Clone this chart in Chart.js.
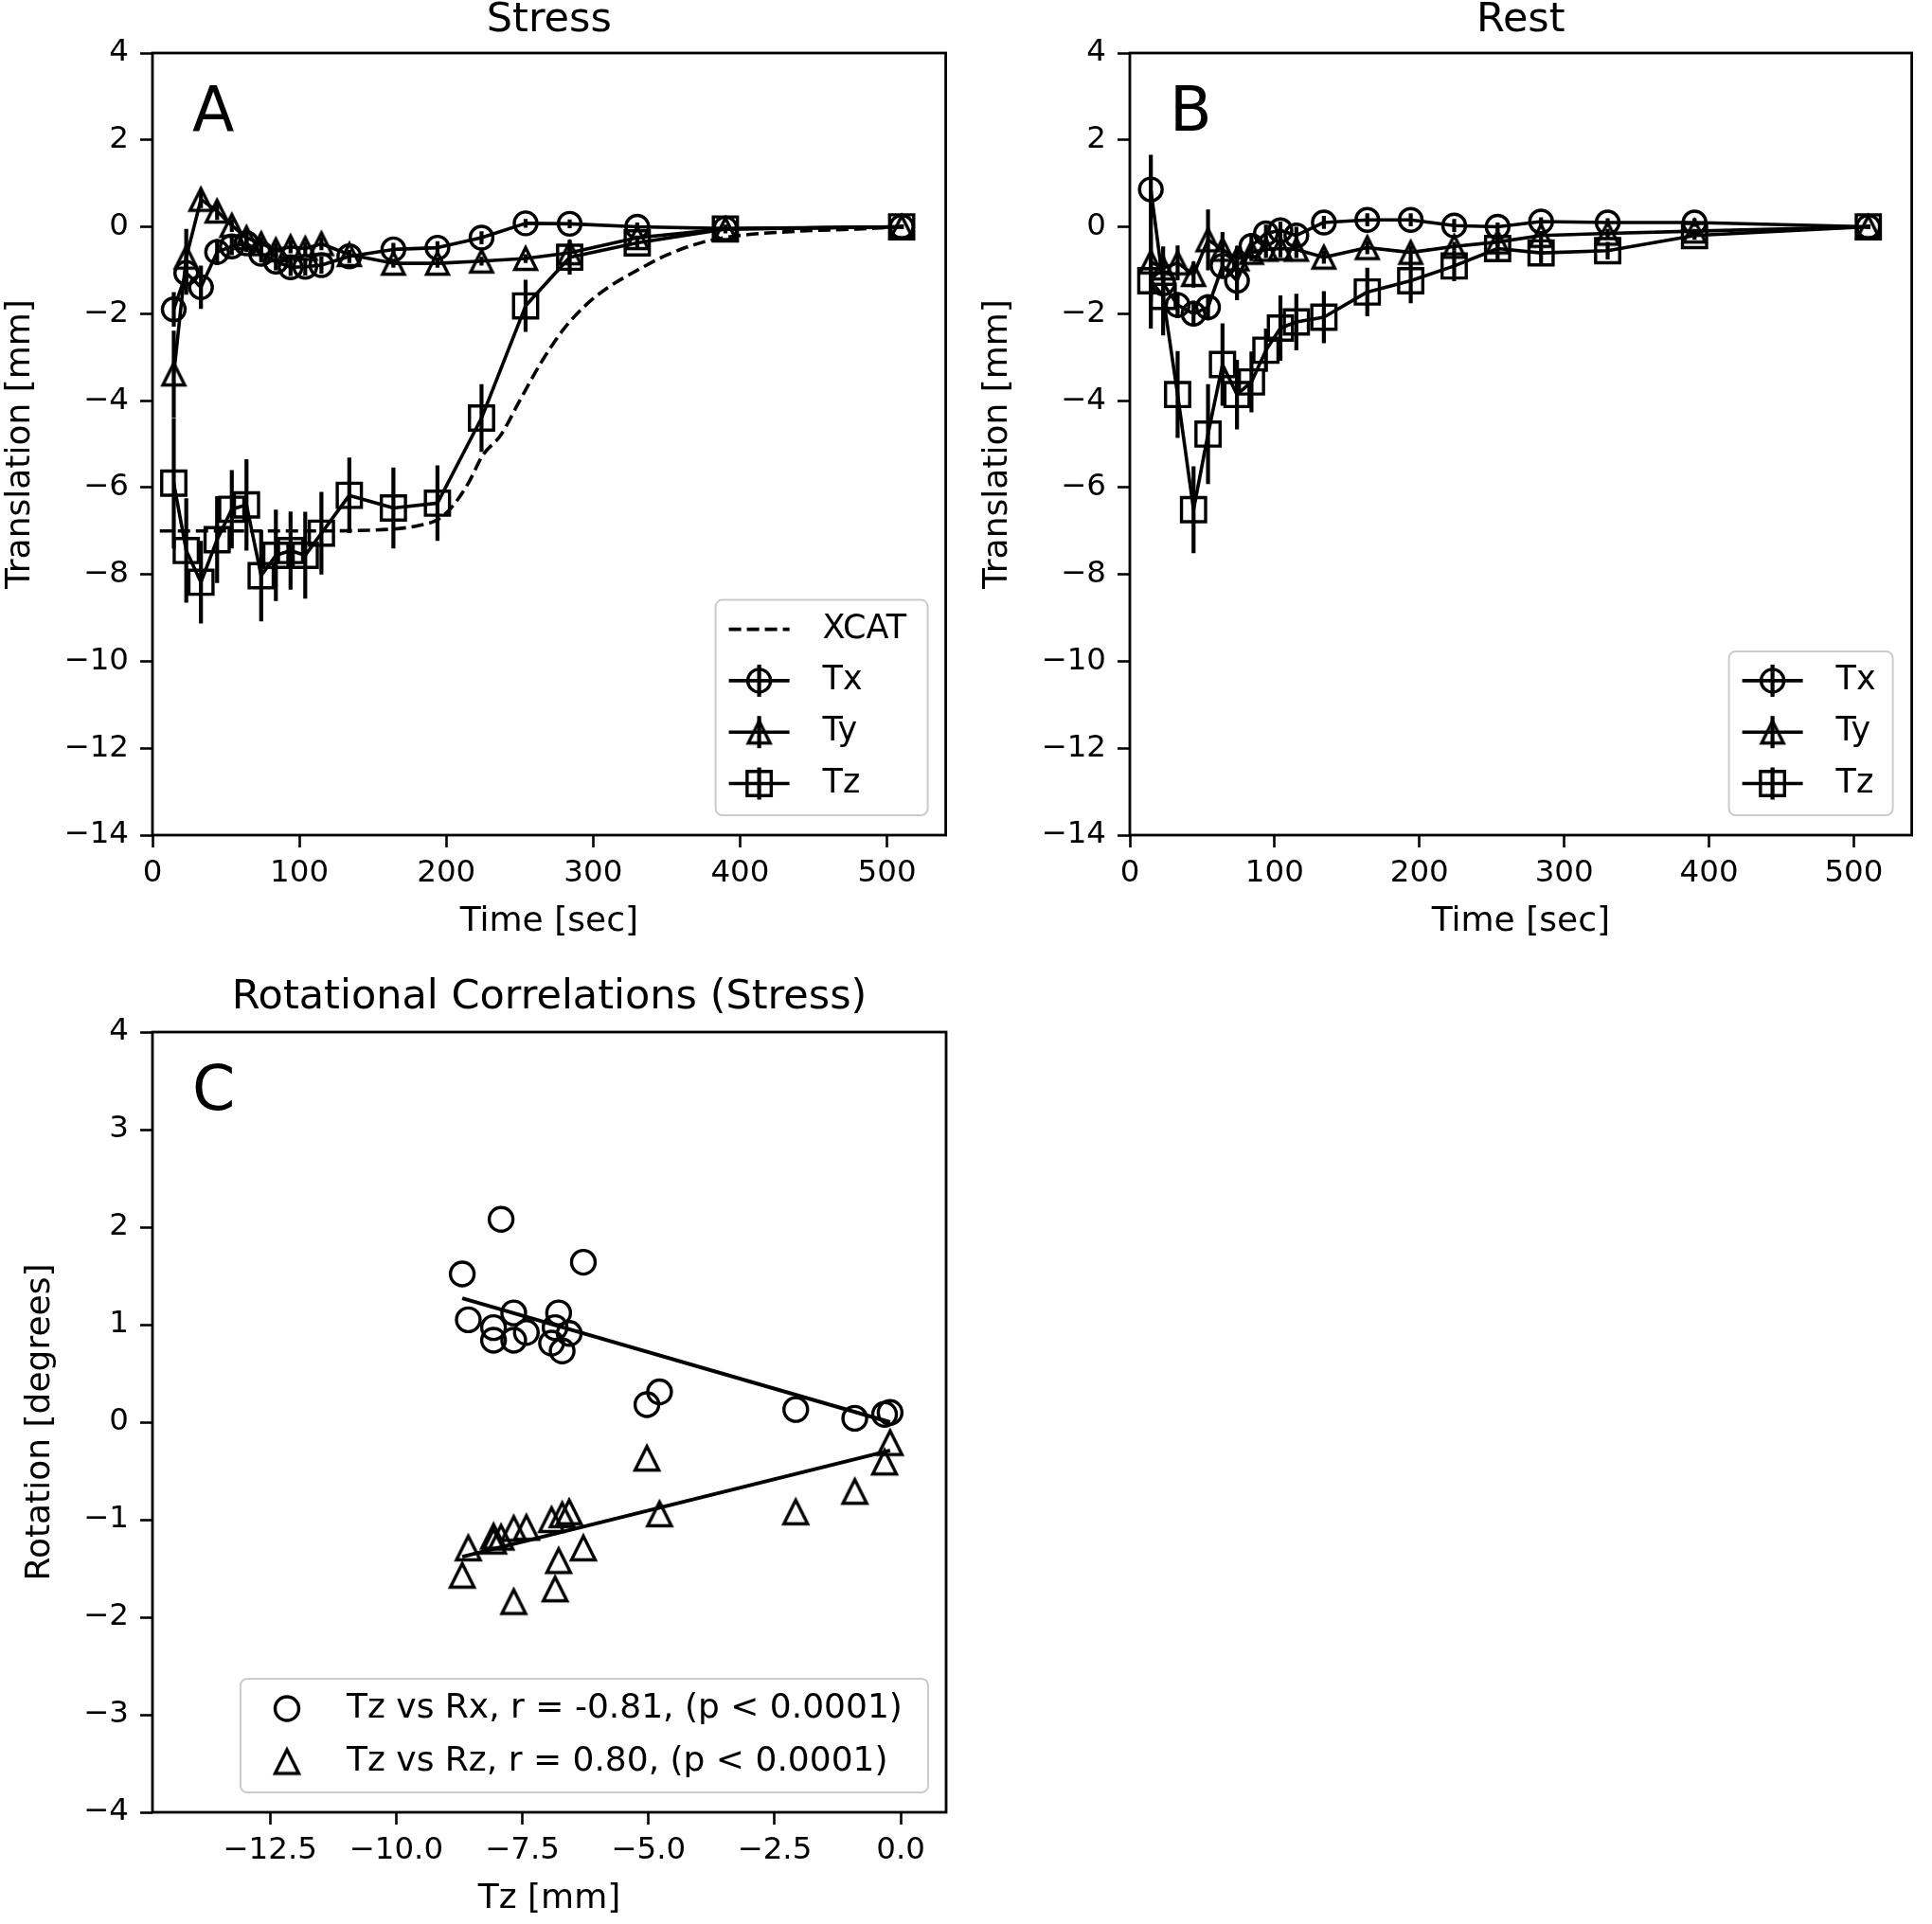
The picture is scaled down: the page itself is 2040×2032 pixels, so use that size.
<!DOCTYPE html>
<html>
<head>
<meta charset="utf-8">
<script src="https://cdn.jsdelivr.net/npm/chart.js@4.4.1/dist/chart.umd.min.js"></script>
<style>
  html, body { margin: 0; padding: 0; background: #fff; }
  #page { position: relative; width: 2040px; height: 2032px; }
  .panel { position: absolute; }
  canvas { display: block; }
</style>
</head>
<body>
<div id="page">
  <div class="panel" style="left:0;top:0"><canvas id="chartA" width="1020" height="1010"></canvas></div>
  <div class="panel" style="left:1020px;top:0"><canvas id="chartB" width="1020" height="1010"></canvas></div>
  <div class="panel" style="left:0;top:1010px"><canvas id="chartC" width="1020" height="1022"></canvas></div>
</div>
<script>
// acquisition times (sec), same for stress and rest
const timeSec = [14.5, 23, 33, 44, 54, 64, 74, 84, 94, 104, 115, 134, 164, 194, 224, 254, 284, 330, 390, 510];

// A - stress translations [mm] and error bars
const txStress = [-1.9, -1.06, -1.39, -0.58, -0.45, -0.38, -0.62, -0.8, -0.93, -0.92, -0.88, -0.68, -0.52, -0.48, -0.25, 0.08, 0.07, 0.0, -0.04, 0.0];
const txStressErr = [0.4, 0.5, 0.5, 0.3, 0.2, 0.2, 0.2, 0.2, 0.2, 0.2, 0.2, 0.15, 0.15, 0.15, 0.15, 0.1, 0.1, 0.1, 0.05, 0.05];
const tyStress = [-3.39, -0.7, 0.63, 0.36, 0.03, -0.25, -0.39, -0.53, -0.46, -0.5, -0.39, -0.64, -0.84, -0.84, -0.79, -0.73, -0.6, -0.25, -0.05, 0.0];
const tyStressErr = [1.0, 0.65, 0.2, 0.2, 0.15, 0.15, 0.15, 0.15, 0.15, 0.15, 0.15, 0.1, 0.1, 0.1, 0.1, 0.1, 0.1, 0.05, 0.05, 0.05];
const tzStress = [-5.9, -7.45, -8.18, -7.2, -6.5, -6.4, -8.03, -7.56, -7.45, -7.56, -7.05, -6.18, -6.47, -6.36, -4.4, -1.82, -0.7, -0.37, -0.05, 0.0];
const tzStressErr = [1.5, 1.2, 0.95, 1.0, 0.9, 1.05, 1.05, 1.05, 0.9, 1.0, 0.95, 0.87, 0.93, 0.87, 0.78, 0.6, 0.4, 0.15, 0.1, 0.05];

// XCAT phantom motion curve
const xcatTime = [5, 50, 100, 150, 182, 195, 205, 215, 225, 237, 250, 265, 280, 295, 310, 330, 350, 375, 400, 440, 480, 510];
const xcatTz = [-7.0, -7.0, -7.0, -6.98, -6.87, -6.72, -6.4, -5.9, -5.25, -4.8, -4.0, -3.1, -2.35, -1.8, -1.4, -1.0, -0.65, -0.35, -0.2, -0.1, -0.05, 0.0];

// B - rest translations [mm] and error bars
const txRest = [0.86, -1.3, -1.8, -2.0, -1.85, -0.9, -1.24, -0.44, -0.15, -0.08, -0.2, 0.1, 0.16, 0.16, 0.03, 0.0, 0.12, 0.1, 0.1, 0.0];
const txRestErr = [0.8, 0.6, 0.3, 0.3, 0.3, 0.3, 0.45, 0.3, 0.2, 0.2, 0.2, 0.15, 0.15, 0.15, 0.15, 0.1, 0.1, 0.1, 0.1, 0.05];
const tyRest = [-0.81, -0.95, -0.83, -1.1, -0.3, -0.52, -0.74, -0.59, -0.52, -0.5, -0.52, -0.7, -0.48, -0.59, -0.45, -0.35, -0.2, -0.15, -0.1, 0.0];
const tyRestErr = [0.9, 0.5, 0.4, 0.3, 0.7, 0.4, 0.3, 0.2, 0.2, 0.2, 0.2, 0.15, 0.15, 0.15, 0.1, 0.1, 0.1, 0.1, 0.05, 0.05];
const tzRest = [-1.24, -1.6, -3.86, -6.51, -4.77, -3.17, -3.86, -3.57, -2.84, -2.33, -2.19, -2.08, -1.5, -1.24, -0.9, -0.5, -0.6, -0.55, -0.2, 0.0];
const tzRestErr = [1.1, 0.9, 1.0, 1.0, 1.15, 0.95, 0.8, 0.7, 0.5, 0.75, 0.65, 0.6, 0.56, 0.52, 0.35, 0.3, 0.25, 0.2, 0.1, 0.05];

// C - Tz [mm] vs rotation [degrees]
const tzScatter = [-8.69, -8.57, -8.07, -8.07, -7.92, -7.67, -7.67, -7.42, -6.92, -6.85, -6.78, -6.71, -6.57, -6.29, -5.03, -4.78, -2.08, -0.91, -0.32, -0.21];
const rxScatter = [1.52, 1.05, 0.97, 0.84, 2.08, 1.12, 0.84, 0.92, 0.81, 0.97, 1.12, 0.73, 0.91, 1.64, 0.18, 0.31, 0.13, 0.04, 0.08, 0.1];
const rzScatter = [-1.57, -1.29, -1.17, -1.22, -1.18, -1.09, -1.84, -1.08, -1.0, -1.71, -1.42, -0.95, -0.92, -1.29, -0.37, -0.94, -0.92, -0.71, -0.41, -0.21];
const fitTz = [-8.69, -0.21];
const fitRx = [1.27, 0.0];
const fitRz = [-1.38, -0.29];

// ticks
const timeTicks = [0, 100, 200, 300, 400, 500];
const timeTickLabels = ['0', '100', '200', '300', '400', '500'];
const transTicks = [4, 2, 0, -2, -4, -6, -8, -10, -12, -14];
const transTickLabels = ['4', '2', '0', '\u22122', '\u22124', '\u22126', '\u22128', '\u221210', '\u221212', '\u221214'];
const rotTicks = [4, 3, 2, 1, 0, -1, -2, -3, -4];
const rotTickLabels = ['4', '3', '2', '1', '0', '\u22121', '\u22122', '\u22123', '\u22124'];
const tzTicks = [-12.5, -10, -7.5, -5, -2.5, 0];
const tzTickLabels = ['\u221212.5', '\u221210.0', '\u22127.5', '\u22125.0', '\u22122.5', '0.0'];

Chart.defaults.font.family = "'DejaVu Sans', sans-serif";
Chart.defaults.color = '#000';

const LW = 3.6;      // data line width
const MLW = 3.4;     // marker edge width
const ELW = 4.2;     // error bar width

// matplotlib-style hollow triangle marker
function triangleMarker(size, lw) {
  const c = document.createElement('canvas');
  const d = Math.ceil(size + lw * 2 + 4);
  c.width = d;
  c.height = d;
  const g = c.getContext('2d');
  const m = d / 2, h = size / 2;
  g.beginPath();
  g.moveTo(m, m - h);
  g.lineTo(m - h, m + h);
  g.lineTo(m + h, m + h);
  g.closePath();
  g.lineWidth = lw;
  g.lineJoin = 'miter';
  g.strokeStyle = '#000';
  g.stroke();
  return c;
}
const triAB = triangleMarker(23, MLW);
const triC = triangleMarker(25, MLW);

function drawMarker(ctx, style, r, x, y) {
  if (style instanceof HTMLCanvasElement) {
    ctx.drawImage(style, x - style.width / 2, y - style.height / 2);
    return;
  }
  ctx.lineWidth = MLW;
  ctx.strokeStyle = '#000';
  ctx.beginPath();
  if (style === 'circle') {
    ctx.arc(x, y, r, 0, Math.PI * 2);
  } else if (style === 'rect') {
    const s = r * Math.SQRT1_2;
    ctx.rect(x - s, y - s, 2 * s, 2 * s);
  }
  ctx.stroke();
}

const framePlugin = {
  id: 'frame',
  afterDatasetsDraw(chart) {
    const { ctx, chartArea: a } = chart;
    ctx.save();
    ctx.strokeStyle = '#000';
    ctx.lineWidth = 2.8;
    ctx.strokeRect(a.left, a.top, a.right - a.left, a.bottom - a.top);
    ctx.restore();
  },
};

const errorBarPlugin = {
  id: 'errorBars',
  beforeDatasetsDraw(chart) {
    const { ctx, chartArea: a, scales } = chart;
    ctx.save();
    ctx.beginPath();
    ctx.rect(a.left, a.top, a.right - a.left, a.bottom - a.top);
    ctx.clip();
    ctx.strokeStyle = '#000';
    ctx.lineWidth = ELW;
    chart.data.datasets.forEach((ds, di) => {
      if (!ds.errorBars) return;
      const meta = chart.getDatasetMeta(di);
      meta.data.forEach((pt, i) => {
        const v = ds.data[i].y;
        const e = ds.errorBars[i];
        ctx.beginPath();
        ctx.moveTo(pt.x, scales.y.getPixelForValue(v + e));
        ctx.lineTo(pt.x, scales.y.getPixelForValue(v - e));
        ctx.stroke();
      });
    });
    ctx.restore();
  },
};

function letterPlugin(letter) {
  return {
    id: 'letter' + letter,
    afterDraw(chart) {
      const { ctx, chartArea: a } = chart;
      ctx.save();
      ctx.font = "65px 'DejaVu Sans'";
      ctx.fillStyle = '#000';
      ctx.textBaseline = 'alphabetic';
      ctx.fillText(letter, a.left + 42, a.top + 82);
      ctx.restore();
    },
  };
}

function legendPlugin(cfg) {
  return {
    id: 'legend' + cfg.key,
    afterDraw(chart) {
      const { ctx, chartArea: a } = chart;
      const n = cfg.entries.length;
      const h = cfg.rowStart + cfg.rowStep * (n - 1) + cfg.rowEnd;
      const x0 = a.right - cfg.rightGap - cfg.width;
      const y0 = a.bottom - cfg.bottomGap - h;
      ctx.save();
      ctx.beginPath();
      ctx.roundRect(x0, y0, cfg.width, h, 7);
      ctx.fillStyle = 'rgba(255,255,255,0.8)';
      ctx.fill();
      ctx.strokeStyle = '#cccccc';
      ctx.lineWidth = 2;
      ctx.stroke();
      cfg.entries.forEach((en, i) => {
        const y = y0 + cfg.rowStart + cfg.rowStep * i;
        const xa = x0 + cfg.handleStart;
        const xb = x0 + cfg.handleEnd;
        const xm = (xa + xb) / 2;
        ctx.strokeStyle = '#000';
        if (en.line) {
          ctx.lineWidth = LW;
          ctx.setLineDash(en.dash || []);
          ctx.beginPath();
          ctx.moveTo(xa, y);
          ctx.lineTo(xb, y);
          ctx.stroke();
          ctx.setLineDash([]);
        }
        if (en.errBar) {
          ctx.lineWidth = ELW;
          ctx.beginPath();
          ctx.moveTo(xm, y - en.errBar);
          ctx.lineTo(xm, y + en.errBar);
          ctx.stroke();
        }
        if (en.marker) drawMarker(ctx, en.marker, en.radius, xm, y);
        ctx.fillStyle = '#000';
        ctx.font = cfg.fontSize + "px 'DejaVu Sans'";
        ctx.textBaseline = 'middle';
        ctx.textAlign = 'left';
        ctx.fillText(en.label, x0 + cfg.textX, y);
      });
      ctx.restore();
    },
  };
}

function series(label, xs, ys, errs, style, radius) {
  return {
    label,
    data: xs.map((x, i) => ({ x, y: ys[i] })),
    errorBars: errs,
    borderColor: '#000',
    borderWidth: LW,
    borderJoinStyle: 'round',
    tension: 0,
    pointStyle: style,
    pointRadius: radius,
    pointBorderWidth: MLW,
    pointBorderColor: '#000',
    pointBackgroundColor: 'rgba(0,0,0,0)',
  };
}

function axis(o) {
  return {
    type: 'linear',
    position: o.position,
    min: o.min,
    max: o.max,
    afterBuildTicks: (s) => { s.ticks = o.ticks.map((v) => ({ value: v })); },
    afterFit: (s) => {
      if (o.position === 'left') s.width = o.size; else s.height = o.size;
    },
    border: { display: false },
    grid: { drawOnChartArea: false, drawTicks: true, tickLength: 13, tickWidth: 2.6, tickColor: '#000' },
    ticks: {
      autoSkip: false,
      maxRotation: 0,
      padding: o.position === 'left' ? 12 : 8,
      font: { size: 32.5 },
      color: '#000',
      callback: (v, i) => o.labels[i],
    },
    title: { display: true, text: o.title, font: { size: 36 }, color: '#000', padding: o.titlePad },
  };
}

function timeChart(id, title, datasets, yWidth, yTitleTop, padRight, letter, legend) {
  return new Chart(document.getElementById(id), {
    type: 'line',
    data: { datasets },
    options: {
      responsive: false,
      animation: false,
      events: [],
      layout: { padding: { left: 0, right: padRight, top: 0, bottom: 14 } },
      plugins: {
        legend: { display: false },
        tooltip: { enabled: false },
        title: {
          display: true, text: title, fullSize: false, color: '#000',
          font: { size: 43, weight: 'normal', lineHeight: 1 },
          padding: { top: 0, bottom: 13 },
        },
      },
      scales: {
        x: axis({ position: 'bottom', min: 0, max: 540, ticks: timeTicks, labels: timeTickLabels, size: 114, title: 'Time [sec]', titlePad: { top: 0, bottom: 1 } }),
        y: axis({ position: 'left', min: -14, max: 4, ticks: transTicks, labels: transTickLabels, size: yWidth, title: 'Translation [mm]', titlePad: { top: yTitleTop, bottom: 0 } }),
      },
    },
    plugins: [errorBarPlugin, framePlugin, letterPlugin(letter), legendPlugin(legend)],
  });
}

const legendRows = { rowStart: 31, rowStep: 54.3, rowEnd: 33.5, handleStart: 14, handleEnd: 78, textX: 113, fontSize: 35 };
const txEntry = { label: 'Tx', line: true, errBar: 17, marker: 'circle', radius: 12 };
const tyEntry = { label: 'Ty', line: true, errBar: 17, marker: triAB };
const tzEntry = { label: 'Tz', line: true, errBar: 17, marker: 'rect', radius: 18 };

// A - stress
timeChart('chartA', 'Stress', [
  {
    label: 'XCAT',
    data: xcatTime.map((t, i) => ({ x: t, y: xcatTz[i] })),
    borderColor: '#000',
    borderWidth: LW,
    borderDash: [13, 6],
    cubicInterpolationMode: 'monotone',
    pointRadius: 0,
  },
  series('Tx', timeSec, txStress, txStressErr, 'circle', 12),
  series('Ty', timeSec, tyStress, tyStressErr, triAB, 12),
  series('Tz', timeSec, tzStress, tzStressErr, 'rect', 18),
], 161, 0, 21, 'A', Object.assign({
  key: 'A', rightGap: 19, bottomGap: 21, width: 224,
  entries: [{ label: 'XCAT', line: true, dash: [13, 6] }, txEntry, tyEntry, tzEntry],
}, legendRows));

// B - rest
timeChart('chartB', 'Rest', [
  series('Tx', timeSec, txRest, txRestErr, 'circle', 12),
  series('Ty', timeSec, tyRest, tyRestErr, triAB, 12),
  series('Tz', timeSec, tzRest, tzRestErr, 'rect', 18),
], 173, 12, 10, 'B', Object.assign({
  key: 'B', rightGap: 20, bottomGap: 21, width: 173,
  entries: [txEntry, tyEntry, tzEntry],
}, legendRows));

// C - rotational correlations
new Chart(document.getElementById('chartC'), {
  type: 'scatter',
  data: {
    datasets: [
      {
        label: 'Tz vs Rx',
        data: tzScatter.map((x, i) => ({ x, y: rxScatter[i] })),
        pointStyle: 'circle',
        pointRadius: 12.5,
        pointBorderWidth: MLW,
        pointBorderColor: '#000',
        pointBackgroundColor: 'rgba(0,0,0,0)',
      },
      {
        label: 'Tz vs Rz',
        data: tzScatter.map((x, i) => ({ x, y: rzScatter[i] })),
        pointStyle: triC,
        pointRadius: 12.5,
      },
      {
        label: 'fit Rx',
        data: fitTz.map((x, i) => ({ x, y: fitRx[i] })),
        showLine: true,
        borderColor: '#000',
        borderWidth: 4,
        pointRadius: 0,
      },
      {
        label: 'fit Rz',
        data: fitTz.map((x, i) => ({ x, y: fitRz[i] })),
        showLine: true,
        borderColor: '#000',
        borderWidth: 4,
        pointRadius: 0,
      },
    ],
  },
  options: {
    responsive: false,
    animation: false,
    events: [],
    layout: { padding: { left: 0, right: 21, top: 0, bottom: 4 } },
    plugins: {
      legend: { display: false },
      tooltip: { enabled: false },
      title: {
        display: true, text: 'Rotational Correlations (Stress)', fullSize: false, color: '#000',
        font: { size: 43, weight: 'normal', lineHeight: 1 },
        padding: { top: 22, bottom: 15 },
      },
    },
    scales: {
      x: axis({ position: 'bottom', min: -14.83, max: 0.9, ticks: tzTicks, labels: tzTickLabels, size: 114, title: 'Tz [mm]', titlePad: { top: 0, bottom: 1 } }),
      y: axis({ position: 'left', min: -4, max: 4, ticks: rotTicks, labels: rotTickLabels, size: 161, title: 'Rotation [degrees]', titlePad: { top: 21, bottom: 0 } }),
    },
  },
  plugins: [framePlugin, letterPlugin('C'), legendPlugin({
    key: 'C', rightGap: 19, bottomGap: 21, width: 726,
    rowStart: 31.5, rowStep: 56, rowEnd: 32.5, handleStart: 14, handleEnd: 84, textX: 112, fontSize: 36,
    entries: [
      { label: 'Tz vs Rx, r = -0.81, (p < 0.0001)', marker: 'circle', radius: 12.5 },
      { label: 'Tz vs Rz, r = 0.80, (p < 0.0001)', marker: triC },
    ],
  })],
});
</script>
</body>
</html>
